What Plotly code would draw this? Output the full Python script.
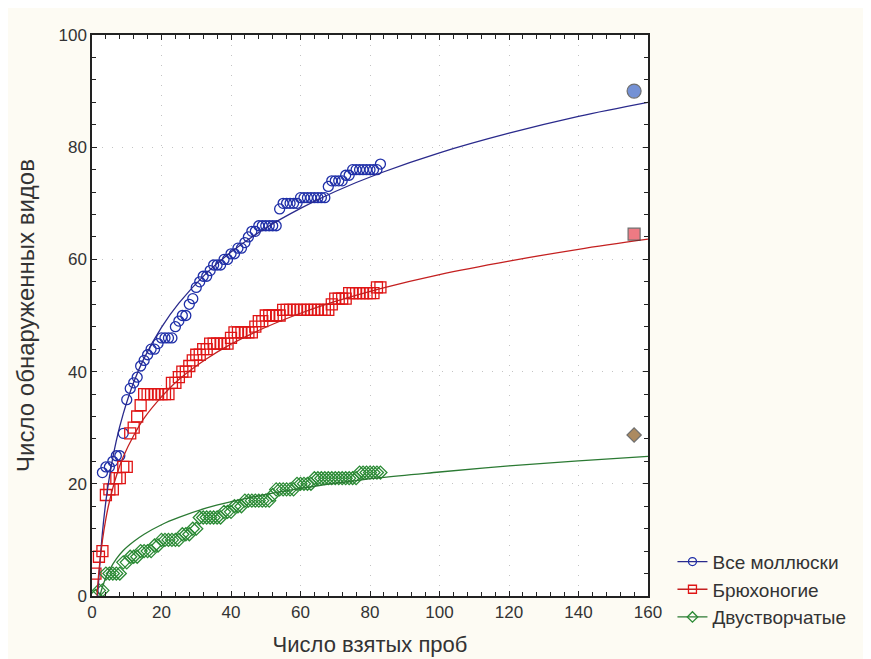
import plotly.graph_objects as go

# ---- observed data (cumulative species vs number of samples) ----
all_x = list(range(3, 84))
all_y = [22, 23, 23, 24, 25, 25, 29, 35, 37, 38, 39, 41, 42, 43, 44, 44, 45, 46, 46, 46,
         46, 48, 49, 50, 50, 52, 53, 55, 56, 57, 57, 58, 59, 59, 59, 60, 60, 61, 61, 62,
         62, 63, 64, 65, 65, 66, 66, 66, 66, 66, 66, 69, 70, 70, 70, 70, 70, 71, 71, 71,
         71, 71, 71, 71, 71, 73, 74, 74, 74, 74, 75, 75, 76, 76, 76, 76, 76, 76, 76, 76,
         77]

gas_x = list(range(1, 84))
gas_y = [4, 7, 8, 18, 19, 19, 21, 21, 23, 23, 29, 30, 32, 34, 36, 36, 36, 36, 36, 36,
         36, 36, 38, 38, 39, 40, 40, 41, 42, 43, 43, 44, 44, 45, 45, 45, 45, 45, 45, 46,
         47, 47, 47, 47, 47, 47, 48, 49, 49, 50, 50, 50, 50, 50, 51, 51, 51, 51, 51, 51,
         51, 51, 51, 51, 51, 51, 51, 51, 52, 53, 53, 53, 53, 54, 54, 54, 54, 54, 54, 54,
         54, 55, 55]

biv_x = list(range(1, 84))
biv_y = [0, 1, 1, 4, 4, 4, 4, 4, 6, 6, 7, 7, 7, 8, 8, 8, 8, 9, 9, 10,
         10, 10, 10, 10, 10, 11, 11, 11, 12, 12, 14, 14, 14, 14, 14, 14, 14, 15, 15, 15,
         16, 16, 16, 17, 17, 17, 17, 17, 17, 17, 17, 18, 19, 19, 19, 19, 19, 19, 20, 20,
         20, 20, 20, 21, 21, 21, 21, 21, 21, 21, 21, 21, 21, 21, 21, 21, 22, 22, 22, 22,
         22, 22, 22]

# ---- fitted curves ----
fit_all_x = [1.6, 2, 3, 4, 5, 7, 9, 12, 15, 20, 25, 33, 40, 50, 60, 70, 83, 100, 120, 140, 160]
fit_all_y = [0, 3.5, 11.3, 16.9, 21.2, 27.7, 32.5, 38.1, 42.4, 47.9, 52.2, 57.6, 61.3,
             65.6, 69.1, 72.1, 75.4, 79.0, 82.5, 85.5, 88.0]

fit_gas_x = [1.45, 2, 3, 4, 5, 7, 9, 12, 15, 20, 25, 33, 40, 50, 60, 70, 83, 100, 120, 140, 160]
fit_gas_y = [0.1, 4.5, 9.9, 13.8, 16.8, 21.4, 24.8, 28.6, 31.7, 35.5, 38.6, 42.3, 44.9,
             47.9, 50.4, 52.5, 54.8, 57.3, 59.7, 61.8, 63.6]

fit_biv_x = [2.3, 3, 4, 5, 7, 9, 12, 15, 20, 25, 33, 40, 50, 60, 70, 83, 100, 120, 140, 160]
fit_biv_y = [0.1, 1.6, 3.3, 4.6, 6.6, 8.1, 9.7, 11.0, 12.7, 14.0, 15.7, 16.8, 18.1,
             19.2, 20.1, 21.1, 22.1, 23.2, 24.1, 24.9]

# ---- total known species (filled markers) ----
total_x = [156, 156, 156]
total_y = [90, 64.5, 28.7]

names = ["Все моллюски", "Брюхоногие", "Двустворчатые"]
x_ticks = [0, 20, 40, 60, 80, 100, 120, 140, 160]
y_ticks = [0, 20, 40, 60, 80, 100]

BLUE, RED, GREEN = "#1f2fa8", "#e01515", "#2a8a34"
BLUE_L, RED_L, GREEN_L = "#2a2a8c", "#c42020", "#2b7a33"

fig = go.Figure()

series = [
    (all_x, all_y, fit_all_x, fit_all_y, BLUE, BLUE_L, "circle-open", 10),
    (gas_x, gas_y, fit_gas_x, fit_gas_y, RED, RED_L, "square-open", 11),
    (biv_x, biv_y, fit_biv_x, fit_biv_y, GREEN, GREEN_L, "diamond-open", 10),
]

for (dx, dy, fx, fy, col, lcol, sym, sz) in series:
    fig.add_trace(go.Scatter(x=dx, y=dy, mode="markers", showlegend=False,
                             marker=dict(symbol=sym, size=sz, color=col, line=dict(width=1.3, color=col))))
for (dx, dy, fx, fy, col, lcol, sym, sz) in series:
    fig.add_trace(go.Scatter(x=fx, y=fy, mode="lines", showlegend=False,
                             line=dict(color=lcol, width=1.3, shape="spline", smoothing=1.0)))

for (dx, dy, fx, fy, col, lcol, sym, sz), nm in zip(series, names):
    fig.add_trace(go.Scatter(x=[None], y=[None], mode="lines+markers", name=nm,
                             line=dict(color=lcol, width=1.3),
                             marker=dict(symbol=sym, size=8, color=col, line=dict(width=1.3, color=col))))

fig.add_trace(go.Scatter(x=total_x, y=total_y, mode="markers", showlegend=False,
                         marker=dict(symbol=["circle", "square", "diamond"], size=[14, 12, 11],
                                     color=["#3a63c4", "#e8434f", "#8a5a1e"],
                                     line=dict(width=1.2, color="#333333"))))

axis_common = dict(showline=True, linecolor="#222222", linewidth=1.5, mirror="ticks",
                   ticks="inside", ticklen=5, tickcolor="#222222", tickwidth=1.2,
                   showgrid=True, gridcolor="#c4c4c4", griddash="1px,9px", gridwidth=1.2,
                   zeroline=False, tickfont=dict(size=17, color="#333333"),
                   minor=dict(ticks="inside", ticklen=4, tickcolor="#222222", showgrid=False))

fig.update_xaxes(range=[0, 160], tickvals=x_ticks,
                 minor_dtick=4,
                 title=dict(text="Число взятых проб", font=dict(size=22, color="#333333"), standoff=15),
                 **axis_common)
fig.update_yaxes(range=[0, 100], tickvals=y_ticks,
                 minor_dtick=4,
                 title=dict(text="Число обнаруженных видов", font=dict(size=24, color="#333333"), standoff=17),
                 **axis_common)

fig.update_layout(
    width=871, height=659,
    margin=dict(l=84, r=231, t=27, b=71),
    paper_bgcolor="#fdfbf3", plot_bgcolor="#ffffff",
    font=dict(family="Arial, Liberation Sans, sans-serif", color="#333333"),
    legend=dict(x=1.044, y=0.095, xanchor="left", yanchor="top",
                bgcolor="rgba(0,0,0,0)", font=dict(size=19, color="#333333"),
                itemwidth=30, tracegroupgap=0),
)

fig.write_html("out.html")
